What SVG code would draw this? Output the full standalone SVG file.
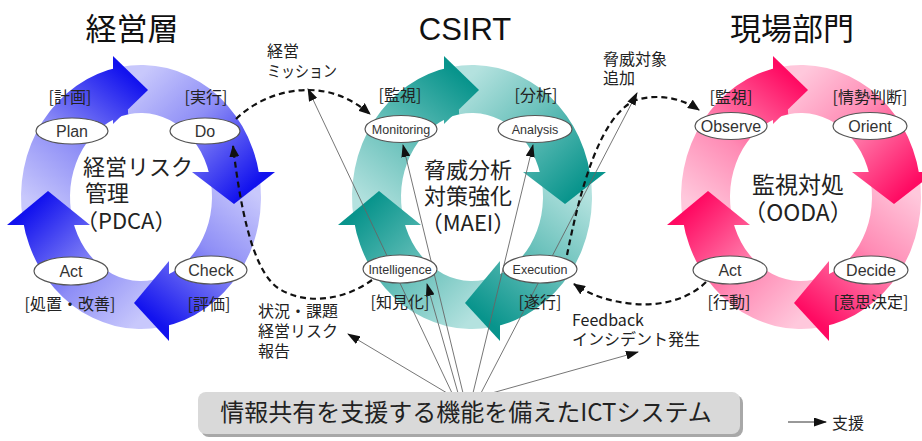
<svg xmlns="http://www.w3.org/2000/svg" xmlns:xlink="http://www.w3.org/1999/xlink" width="922" height="441" viewBox="0 0 922 441">
<style>
.node ellipse{fill:#fff;stroke:#555;stroke-width:1.2}
.nl{font-family:"Liberation Sans",Arial,sans-serif;fill:#333;text-anchor:middle}
.nb{font-size:16px}
.nt{font-size:12.5px}
.jp{font-family:"Noto Sans CJK JP","Noto Sans",sans-serif;fill:#222}
.br{font-size:16px;text-anchor:middle}
.ct{font-size:22px}
.title{font-size:31px;fill:#111;text-anchor:middle}
.lab{font-size:16px}
.dash{fill:none;stroke:#111;stroke-width:2.2;stroke-dasharray:6 4;marker-end:url(#ah)}
.thin{fill:none;stroke:#666;stroke-width:0.9;marker-end:url(#ta)}
</style>
<defs>
<marker id="ah" markerUnits="userSpaceOnUse" viewBox="0 0 12 10" markerWidth="12" markerHeight="10" refX="11" refY="5" orient="auto"><path d="M0,0 L12,5 L0,10 z" fill="#111"/></marker>
<marker id="ta" markerUnits="userSpaceOnUse" viewBox="0 0 13 9" markerWidth="13" markerHeight="9" refX="12" refY="4.5" orient="auto"><path d="M0,0 L13,4.5 L0,9 z" fill="#111"/></marker>
<linearGradient id="blue"><stop offset="0" stop-color="#c8c8fc"/><stop offset="0.45" stop-color="#8e8ef6"/><stop offset="1" stop-color="#1212ee"/></linearGradient>
<linearGradient id="teal"><stop offset="0" stop-color="#b4e2df"/><stop offset="0.45" stop-color="#6cc2bc"/><stop offset="1" stop-color="#08948c"/></linearGradient>
<linearGradient id="pink"><stop offset="0" stop-color="#ffc8dc"/><stop offset="0.45" stop-color="#ff8ab4"/><stop offset="1" stop-color="#ff0a62"/></linearGradient>
<linearGradient id="blueT" xlink:href="#blue" gradientUnits="userSpaceOnUse" x1="-94" y1="19" x2="7" y2="-107"/>
<linearGradient id="blueR" xlink:href="#blue" gradientUnits="userSpaceOnUse" x1="-17" y1="-106" x2="93" y2="7"/>
<linearGradient id="blueB" xlink:href="#blue" gradientUnits="userSpaceOnUse" x1="94" y1="-19" x2="-7" y2="106"/>
<linearGradient id="blueL" xlink:href="#blue" gradientUnits="userSpaceOnUse" x1="17" y1="106" x2="-93" y2="-6"/>
<linearGradient id="tealT" xlink:href="#teal" gradientUnits="userSpaceOnUse" x1="-94" y1="19" x2="7" y2="-107"/>
<linearGradient id="tealR" xlink:href="#teal" gradientUnits="userSpaceOnUse" x1="-17" y1="-106" x2="93" y2="7"/>
<linearGradient id="tealB" xlink:href="#teal" gradientUnits="userSpaceOnUse" x1="94" y1="-19" x2="-7" y2="106"/>
<linearGradient id="tealL" xlink:href="#teal" gradientUnits="userSpaceOnUse" x1="17" y1="106" x2="-93" y2="-6"/>
<linearGradient id="pinkT" xlink:href="#pink" gradientUnits="userSpaceOnUse" x1="-94" y1="19" x2="7" y2="-107"/>
<linearGradient id="pinkR" xlink:href="#pink" gradientUnits="userSpaceOnUse" x1="-17" y1="-106" x2="93" y2="7"/>
<linearGradient id="pinkB" xlink:href="#pink" gradientUnits="userSpaceOnUse" x1="94" y1="-19" x2="-7" y2="106"/>
<linearGradient id="pinkL" xlink:href="#pink" gradientUnits="userSpaceOnUse" x1="17" y1="106" x2="-93" y2="-6"/>
<path id="bT" d="M-118.18,22.92 A120 132 0 0 1 -20.84,-130 L-12.33,-82.72 A71 84 0 0 0 -69.92,14.59 Z"/>
<path id="bR" d="M-20.84,-130 A120 132 0 0 1 118.18,-22.92 L69.92,-14.59 A71 84 0 0 0 -12.33,-82.72 Z"/>
<path id="bB" d="M118.18,-22.92 A120 132 0 0 1 20.84,130 L12.33,82.72 A71 84 0 0 0 69.92,-14.59 Z"/>
<path id="bL" d="M20.84,130 A120 132 0 0 1 -118.18,22.92 L-69.92,14.59 A71 84 0 0 0 12.33,82.72 Z"/>
<path id="hT" d="M-28,-141 L-28,-73 L7,-107 Z"/>
<path id="hR" d="M134,-25 L51,-25 L93,7 Z"/>
<path id="hB" d="M28,64 L28,144 L-7,106 Z"/>
<path id="hL" d="M-134,28 L-51,28 L-93,-6 Z"/>
</defs>

<rect width="922" height="441" fill="#fff"/>

<g id="cycle-blue" transform="translate(141,197)">
<use xlink:href="#bT" fill="url(#blueT)"/><use xlink:href="#bR" fill="url(#blueR)"/><use xlink:href="#bB" fill="url(#blueB)"/><use xlink:href="#bL" fill="url(#blueL)"/>
<use xlink:href="#hT" fill="url(#blueT)"/><use xlink:href="#hR" fill="url(#blueR)"/><use xlink:href="#hB" fill="url(#blueB)"/><use xlink:href="#hL" fill="url(#blueL)"/>
</g>
<g id="cycle-teal" transform="translate(472,197)">
<use xlink:href="#bT" fill="url(#tealT)"/><use xlink:href="#bR" fill="url(#tealR)"/><use xlink:href="#bB" fill="url(#tealB)"/><use xlink:href="#bL" fill="url(#tealL)"/>
<use xlink:href="#hT" fill="url(#tealT)"/><use xlink:href="#hR" fill="url(#tealR)"/><use xlink:href="#hB" fill="url(#tealB)"/><use xlink:href="#hL" fill="url(#tealL)"/>
</g>
<g id="cycle-pink" transform="translate(801,197)">
<use xlink:href="#bT" fill="url(#pinkT)"/><use xlink:href="#bR" fill="url(#pinkR)"/><use xlink:href="#bB" fill="url(#pinkB)"/><use xlink:href="#bL" fill="url(#pinkL)"/>
<use xlink:href="#hT" fill="url(#pinkT)"/><use xlink:href="#hR" fill="url(#pinkR)"/><use xlink:href="#hB" fill="url(#pinkB)"/><use xlink:href="#hL" fill="url(#pinkL)"/>
</g>

<g id="titles" class="jp">
<text class="title" x="132" y="40">経営層</text>
<text class="title" x="465" y="40" style="font-family:'Liberation Sans',Arial,sans-serif">CSIRT</text>
<text class="title" x="792" y="40">現場部門</text>
</g>

<g id="center-labels" class="jp ct">
<text x="83" y="175">経営リスク</text>
<text x="85" y="201">管理</text>
<text x="76" y="229">（PDCA）</text>
<text x="468" y="178" text-anchor="middle">脅威分析</text>
<text x="468" y="204" text-anchor="middle">対策強化</text>
<text x="468" y="231" text-anchor="middle">（MAEI）</text>
<text x="798" y="193" text-anchor="middle" font-size="23">監視対処</text>
<text x="798" y="221" text-anchor="middle" font-size="23">（OODA）</text>
</g>

<g id="connectors">
<path class="thin" d="M447,393 L348,334"/>
<path class="thin" d="M452,393 L308,89"/>
<path class="thin" d="M458,393 L427,284"/>
<path class="thin" d="M463,393 L403,145"/>
<path class="thin" d="M473,393 L533,145"/>
<path class="thin" d="M481,393 L637,93"/>
<path class="thin" d="M492,393 L638,352"/>
<path class="dash" d="M236,119 C258,98 285,90 308,90 C332,90 352,99 370,114"/>
<path class="dash" d="M372,280 C345,300 305,306 278,288 C252,270 240,205 233,146"/>
<path class="dash" d="M567,255 C580,190 600,115 636,100 C660,93 683,99 699,110"/>
<path class="dash" d="M706,282 C688,300 660,306 635,304 C610,302 590,295 574,284"/>
</g>

<g id="node-plan" class="node"><ellipse cx="72" cy="131" rx="36" ry="13"/><text class="nl nb" x="72" y="137">Plan</text></g>
<g id="node-do" class="node"><ellipse cx="205" cy="131" rx="35" ry="13"/><text class="nl nb" x="205" y="137">Do</text></g>
<g id="node-act-pdca" class="node"><ellipse cx="71" cy="271" rx="37" ry="14"/><text class="nl nb" x="71" y="277">Act</text></g>
<g id="node-check" class="node"><ellipse cx="211" cy="270" rx="36" ry="14"/><text class="nl nb" x="211" y="276">Check</text></g>

<g id="node-monitoring" class="node"><ellipse cx="401" cy="129" rx="36" ry="13.5"/><text class="nl nt" x="401" y="134">Monitoring</text></g>
<g id="node-analysis" class="node"><ellipse cx="535" cy="129" rx="37" ry="13.5"/><text class="nl nt" x="535" y="134">Analysis</text></g>
<g id="node-intelligence" class="node"><ellipse cx="400" cy="269" rx="37" ry="14"/><text class="nl nt" x="400" y="274">Intelligence</text></g>
<g id="node-execution" class="node"><ellipse cx="540" cy="269" rx="37" ry="14"/><text class="nl nt" x="540" y="274">Execution</text></g>

<g id="node-observe" class="node"><ellipse cx="731" cy="126" rx="36" ry="13.5"/><text class="nl nb" x="731" y="132">Observe</text></g>
<g id="node-orient" class="node"><ellipse cx="870" cy="126" rx="37" ry="13.5"/><text class="nl nb" x="870" y="132">Orient</text></g>
<g id="node-act-ooda" class="node"><ellipse cx="730" cy="270" rx="37" ry="14"/><text class="nl nb" x="730" y="276">Act</text></g>
<g id="node-decide" class="node"><ellipse cx="871" cy="270" rx="37" ry="14"/><text class="nl nb" x="871" y="276">Decide</text></g>

<g id="step-labels" class="jp br">
<text x="70" y="103">[計画]</text>
<text x="206" y="103">[実行]</text>
<text x="70" y="310">[処置・改善]</text>
<text x="209" y="310">[評価]</text>
<text x="400" y="101">[監視]</text>
<text x="536" y="101">[分析]</text>
<text x="400" y="308">[知見化]</text>
<text x="540" y="308">[遂行]</text>
<text x="731" y="103">[監視]</text>
<text x="870" y="103">[情勢判断]</text>
<text x="729" y="308">[行動]</text>
<text x="871" y="308">[意思決定]</text>
</g>

<g id="annotations" class="jp lab">
<text x="267" y="57">経営</text>
<text x="267" y="77" textLength="70" lengthAdjust="spacingAndGlyphs">ミッション</text>
<text x="603" y="65">脅威対象</text>
<text x="603" y="84">追加</text>
<text x="258" y="317">状況・課題</text>
<text x="258" y="337">経営リスク</text>
<text x="258" y="357">報告</text>
<text x="572" y="326">Feedback</text>
<text x="572" y="345">インシデント発生</text>
</g>

<g id="ict-system">
<rect x="201" y="395" width="542" height="42" rx="8" fill="#a8a8a8"/>
<rect x="198" y="392" width="542" height="42" rx="8" fill="#d9d9d9"/>
<text class="jp" x="466" y="421" font-size="24" text-anchor="middle" fill="#222">情報共有を支援する機能を備えたICTシステム</text>
</g>

<g id="legend">
<path d="M788,422 L826,422" stroke="#333" stroke-width="1" marker-end="url(#ta)"/>
<text class="jp" x="832" y="429" font-size="16">支援</text>
</g>
</svg>
